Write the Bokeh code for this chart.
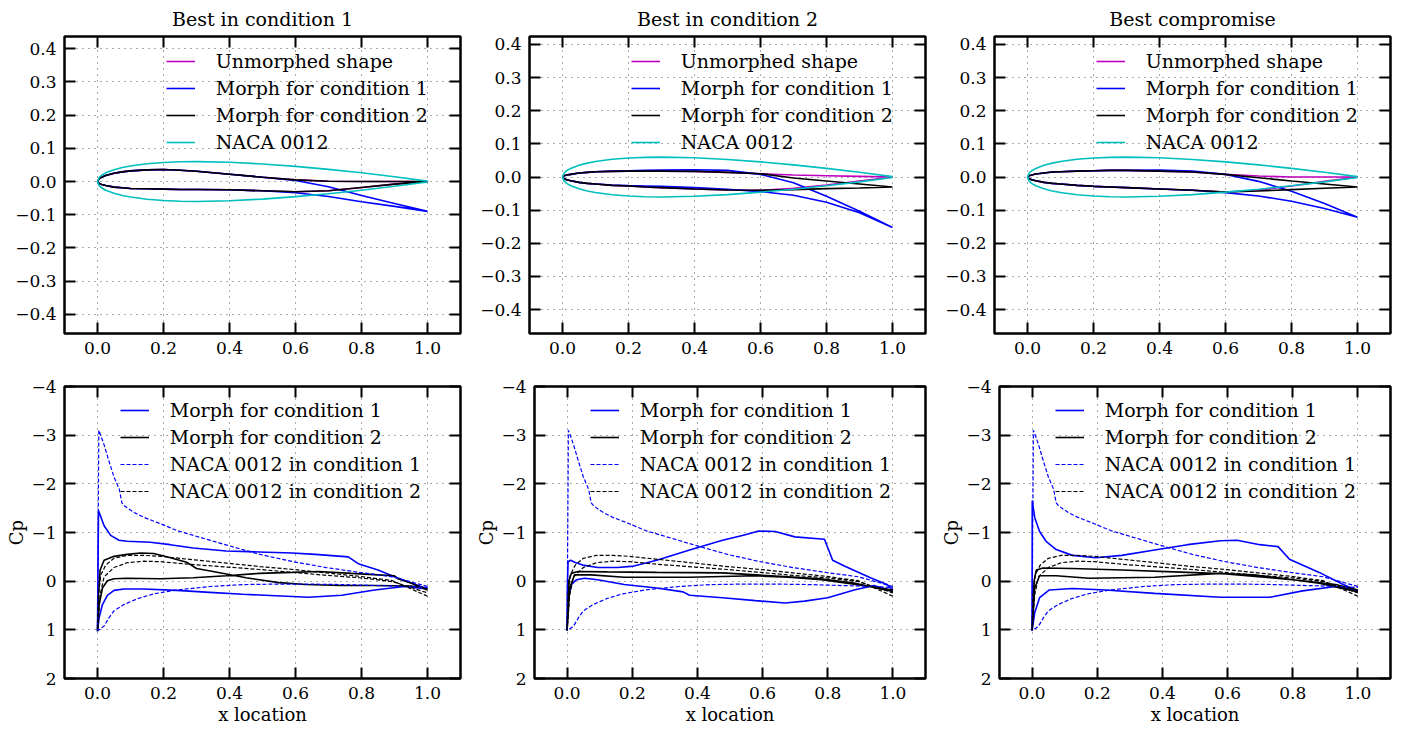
from bokeh.plotting import figure
from bokeh.models import (Range1d, FixedTicker, CustomJSTickFormatter, LinearAxis,
                          Legend, LegendItem)
from bokeh.layouts import column, row
from bokeh.embed import file_html
from bokeh.resources import INLINE

FONT = "DejaVu Serif"

TITLES = ["Best in condition 1", "Best in condition 2", "Best compromise"]
SHAPE_LABELS = ["Unmorphed shape", "Morph for condition 1", "Morph for condition 2", "NACA 0012"]
CP_LABELS = ["Morph for condition 1", "Morph for condition 2",
             "NACA 0012 in condition 1", "NACA 0012 in condition 2"]

X_TICKS = [0.0, 0.2, 0.4, 0.6, 0.8, 1.0]
SHAPE_Y_TICKS = [-0.4, -0.3, -0.2, -0.1, 0.0, 0.1, 0.2, 0.3, 0.4]
CP_Y_TICKS = [-4, -3, -2, -1, 0, 1, 2]
SHAPE_Y_LIMS = [(-0.458, 0.437), (-0.472, 0.424), (-0.472, 0.424)]

# ---- airfoil shapes (chord stations) ----
XS = [0.0, 0.005, 0.0125, 0.025, 0.05, 0.075, 0.1, 0.15, 0.2, 0.25, 0.3, 0.4, 0.5, 0.6, 0.7, 0.8, 0.9, 1.0]
NACA_YT = [0.0, 0.0122, 0.01894, 0.02615, 0.03555, 0.042, 0.04683, 0.05345, 0.05737, 0.05941,
           0.06002, 0.05803, 0.05294, 0.04563, 0.03664, 0.02623, 0.01448, 0.00126]

C1_BASE_UP = [0.0, 0.008, 0.013, 0.018, 0.025, 0.029, 0.032, 0.035, 0.036, 0.034, 0.031, 0.022, 0.013, 0.005, 0.001, 0.0, 0.0, 0.0]
C1_BASE_LO = [0.0, -0.006, -0.009, -0.012, -0.017, -0.019, -0.021, -0.022, -0.023, -0.024, -0.024, -0.025, -0.028, -0.031, -0.028, -0.018, -0.008, 0.0]
C1_M1_UP = [0.0, 0.008, 0.013, 0.018, 0.025, 0.029, 0.032, 0.035, 0.036, 0.034, 0.031, 0.022, 0.013, 0.003, -0.016, -0.042, -0.066, -0.090]
C1_M1_LO = [0.0, -0.006, -0.009, -0.012, -0.017, -0.019, -0.021, -0.022, -0.023, -0.024, -0.024, -0.025, -0.028, -0.034, -0.045, -0.061, -0.075, -0.090]
C1_M2_UP = [0.0, 0.008, 0.013, 0.018, 0.025, 0.029, 0.032, 0.035, 0.036, 0.034, 0.031, 0.022, 0.013, 0.005, 0.001, 0.0, 0.0, 0.0]
C1_M2_LO = [0.0, -0.006, -0.009, -0.012, -0.017, -0.019, -0.021, -0.022, -0.023, -0.024, -0.024, -0.025, -0.028, -0.031, -0.028, -0.018, -0.008, 0.0]

C2_BASE_UP = [0.0, 0.004, 0.006, 0.008, 0.012, 0.014, 0.016, 0.017, 0.018, 0.018, 0.018, 0.017, 0.014, 0.010, 0.006, 0.004, 0.002, 0.0]
C2_BASE_LO = [0.0, -0.005, -0.008, -0.011, -0.016, -0.019, -0.021, -0.025, -0.027, -0.030, -0.032, -0.036, -0.039, -0.040, -0.034, -0.024, -0.012, 0.0]
C2_M1_UP = [0.0, 0.004, 0.006, 0.008, 0.012, 0.014, 0.016, 0.018, 0.019, 0.020, 0.021, 0.022, 0.020, 0.008, -0.017, -0.058, -0.103, -0.152]
C2_M1_LO = [0.0, -0.005, -0.008, -0.011, -0.016, -0.019, -0.021, -0.024, -0.026, -0.027, -0.028, -0.032, -0.037, -0.044, -0.055, -0.076, -0.108, -0.152]
C2_M2_UP = [0.0, 0.004, 0.006, 0.008, 0.012, 0.014, 0.016, 0.017, 0.018, 0.018, 0.018, 0.017, 0.014, 0.010, -0.003, -0.012, -0.021, -0.030]
C2_M2_LO = [0.0, -0.005, -0.008, -0.011, -0.016, -0.019, -0.021, -0.025, -0.027, -0.030, -0.032, -0.036, -0.039, -0.040, -0.038, -0.035, -0.033, -0.030]

C3_BASE_UP = [0.0, 0.004, 0.006, 0.009, 0.012, 0.015, 0.016, 0.018, 0.019, 0.020, 0.020, 0.018, 0.015, 0.008, 0.003, 0.0, 0.0, 0.0]
C3_BASE_LO = [0.0, -0.005, -0.008, -0.011, -0.016, -0.019, -0.021, -0.025, -0.028, -0.030, -0.032, -0.036, -0.040, -0.045, -0.040, -0.027, -0.013, 0.0]
C3_M1_UP = [0.0, 0.004, 0.006, 0.009, 0.012, 0.015, 0.016, 0.018, 0.019, 0.020, 0.020, 0.021, 0.018, 0.008, -0.013, -0.043, -0.080, -0.121]
C3_M1_LO = [0.0, -0.005, -0.008, -0.011, -0.016, -0.019, -0.021, -0.025, -0.028, -0.030, -0.032, -0.036, -0.040, -0.047, -0.057, -0.073, -0.095, -0.121]
C3_M2_UP = [0.0, 0.004, 0.006, 0.009, 0.012, 0.015, 0.016, 0.018, 0.019, 0.020, 0.020, 0.018, 0.015, 0.008, -0.002, -0.012, -0.021, -0.030]
C3_M2_LO = [0.0, -0.005, -0.008, -0.011, -0.016, -0.019, -0.021, -0.025, -0.028, -0.030, -0.032, -0.036, -0.040, -0.045, -0.042, -0.038, -0.034, -0.030]

# ---- pressure coefficients: NACA 0012 (same in all columns) ----
NACA1_XU = [0.0, 0.004, 0.008, 0.02, 0.035, 0.05, 0.066, 0.074, 0.081, 0.111, 0.141, 0.191, 0.241, 0.291, 0.392, 0.492, 0.593, 0.693, 0.794, 0.894, 1.0]
NACA1_CU = [1.0, -3.10, -3.03, -2.80, -2.46, -2.14, -1.89, -1.61, -1.55, -1.41, -1.31, -1.18, -1.04, -0.94, -0.74, -0.55, -0.40, -0.28, -0.18, -0.09, 0.11]
NACA1_XL = [0.0, 0.005, 0.02, 0.035, 0.05, 0.08, 0.121, 0.171, 0.241, 0.342, 0.442, 0.543, 0.643, 0.744, 0.844, 0.945, 1.0]
NACA1_CL = [1.0, 1.0, 0.92, 0.75, 0.61, 0.48, 0.36, 0.26, 0.18, 0.11, 0.07, 0.06, 0.06, 0.07, 0.09, 0.11, 0.13]
NACA2_XU = [0.0, 0.003, 0.01, 0.025, 0.05, 0.09, 0.141, 0.191, 0.291, 0.392, 0.492, 0.593, 0.693, 0.794, 0.894, 1.0]
NACA2_CU = [1.0, 0.28, -0.13, -0.33, -0.47, -0.53, -0.53, -0.51, -0.44, -0.37, -0.30, -0.24, -0.17, -0.10, -0.01, 0.31]
NACA2_XL = [0.0, 0.008, 0.02, 0.05, 0.09, 0.141, 0.191, 0.291, 0.392, 0.492, 0.593, 0.693, 0.794, 0.894, 1.0]
NACA2_CL = [1.0, 0.28, -0.09, -0.28, -0.38, -0.41, -0.40, -0.34, -0.29, -0.24, -0.18, -0.12, -0.07, 0.01, 0.24]

# ---- pressure coefficients: morphed shapes ----
C1_M1_XU = [0.0, 0.003, 0.02, 0.04, 0.065, 0.09, 0.16, 0.22, 0.29, 0.39, 0.49, 0.59, 0.66, 0.76, 0.79, 0.85, 0.90, 0.95, 1.0]
C1_M1_CU = [1.03, -1.45, -1.14, -0.94, -0.84, -0.82, -0.80, -0.75, -0.68, -0.62, -0.60, -0.58, -0.55, -0.50, -0.36, -0.23, -0.09, 0.04, 0.16]
C1_M1_XL = [0.0, 0.005, 0.015, 0.03, 0.05, 0.08, 0.14, 0.24, 0.34, 0.44, 0.54, 0.64, 0.74, 0.84, 0.93, 1.0]
C1_M1_CL = [1.03, 0.75, 0.48, 0.29, 0.19, 0.16, 0.16, 0.19, 0.23, 0.27, 0.30, 0.33, 0.29, 0.18, 0.11, 0.16]
C1_M2_XU = [0.0, 0.003, 0.008, 0.02, 0.05, 0.09, 0.13, 0.17, 0.21, 0.27, 0.30, 0.35, 0.45, 0.55, 0.63, 0.74, 0.84, 0.95, 1.0]
C1_M2_CU = [1.03, 0.28, -0.23, -0.43, -0.51, -0.55, -0.58, -0.57, -0.50, -0.39, -0.26, -0.20, -0.07, 0.03, 0.07, 0.09, 0.09, 0.10, 0.14]
C1_M2_XL = [0.0, 0.005, 0.015, 0.03, 0.05, 0.09, 0.19, 0.29, 0.39, 0.49, 0.59, 0.67, 0.77, 0.85, 0.90, 0.91, 0.95, 1.0]
C1_M2_CL = [1.03, 0.48, 0.14, -0.01, -0.05, -0.06, -0.05, -0.07, -0.11, -0.16, -0.18, -0.20, -0.16, -0.13, -0.11, -0.05, 0.04, 0.18]

C2_M1_XU = [0.0, 0.001, 0.003, 0.011, 0.023, 0.048, 0.094, 0.155, 0.205, 0.275, 0.376, 0.477, 0.538, 0.588, 0.639, 0.699, 0.79, 0.815, 0.851, 0.931, 0.982, 1.0]
C2_M1_CU = [1.02, 0.14, -0.40, -0.43, -0.39, -0.33, -0.28, -0.28, -0.31, -0.43, -0.64, -0.84, -0.94, -1.03, -1.02, -0.91, -0.86, -0.43, -0.31, -0.07, 0.07, 0.18]
C2_M1_XL = [0.0, 0.003, 0.013, 0.029, 0.054, 0.094, 0.175, 0.275, 0.356, 0.376, 0.477, 0.578, 0.669, 0.729, 0.80, 0.881, 0.942, 1.0]
C2_M1_CL = [1.02, 0.41, 0.07, -0.03, -0.06, -0.03, 0.07, 0.14, 0.22, 0.29, 0.34, 0.40, 0.45, 0.41, 0.34, 0.18, 0.09, 0.20]
C2_M2_XU = [0.0, 0.005, 0.013, 0.033, 0.124, 0.275, 0.477, 0.679, 0.779, 0.88, 1.0]
C2_M2_CU = [1.02, 0.0, -0.16, -0.20, -0.19, -0.18, -0.17, -0.09, -0.05, 0.04, 0.21]
C2_M2_XL = [0.0, 0.008, 0.023, 0.074, 0.175, 0.376, 0.578, 0.679, 0.78, 0.881, 1.0]
C2_M2_CL = [1.02, 0.14, -0.13, -0.13, -0.08, -0.08, -0.11, -0.08, -0.03, 0.06, 0.18]

C3_M1_XU = [0.0, 0.0005, 0.008, 0.023, 0.043, 0.074, 0.124, 0.195, 0.275, 0.376, 0.477, 0.578, 0.629, 0.699, 0.755, 0.79, 0.881, 0.952, 1.0]
C3_M1_CU = [1.02, -1.65, -1.31, -1.02, -0.82, -0.65, -0.53, -0.48, -0.53, -0.64, -0.75, -0.83, -0.84, -0.75, -0.71, -0.45, -0.18, 0.06, 0.20]
C3_M1_XL = [0.0, 0.008, 0.023, 0.053, 0.124, 0.225, 0.376, 0.578, 0.73, 0.83, 0.931, 1.0]
C3_M1_CL = [1.02, 0.65, 0.34, 0.18, 0.15, 0.18, 0.25, 0.33, 0.33, 0.20, 0.11, 0.20]
C3_M2_XU = [0.0, 0.006, 0.013, 0.033, 0.124, 0.275, 0.477, 0.679, 0.73, 0.881, 1.0]
C3_M2_CU = [1.02, 0.0, -0.23, -0.27, -0.26, -0.23, -0.18, -0.13, -0.09, 0.04, 0.22]
C3_M2_XL = [0.0, 0.008, 0.023, 0.074, 0.175, 0.376, 0.578, 0.73, 0.83, 0.931, 1.0]
C3_M2_CL = [1.02, 0.14, -0.11, -0.11, -0.06, -0.08, -0.16, -0.07, -0.01, 0.07, 0.18]

SHAPES = [
    (C1_BASE_UP, C1_BASE_LO, C1_M1_UP, C1_M1_LO, C1_M2_UP, C1_M2_LO),
    (C2_BASE_UP, C2_BASE_LO, C2_M1_UP, C2_M1_LO, C2_M2_UP, C2_M2_LO),
    (C3_BASE_UP, C3_BASE_LO, C3_M1_UP, C3_M1_LO, C3_M2_UP, C3_M2_LO),
]
CPS = [
    ((C1_M1_XU, C1_M1_CU, C1_M1_XL, C1_M1_CL), (C1_M2_XU, C1_M2_CU, C1_M2_XL, C1_M2_CL)),
    ((C2_M1_XU, C2_M1_CU, C2_M1_XL, C2_M1_CL), (C2_M2_XU, C2_M2_CU, C2_M2_XL, C2_M2_CL)),
    ((C3_M1_XU, C3_M1_CU, C3_M1_XL, C3_M1_CL), (C3_M2_XU, C3_M2_CU, C3_M2_XL, C3_M2_CL)),
]

MAGENTA = "#bf00bf"
BLUE = "#0000ff"
BLACK = "#000000"
CYAN = "#00bfbf"

WIDTHS = [473, 465, 461]
LEFT_BORDERS = [64, 56, 56]
RIGHT_BORDERS = [13, 13, 9]


def loop(xu, yu, xl, yl):
    return list(xu)[::-1] + list(xl), list(yu)[::-1] + list(yl)


def style_axis(ax, blank=False):
    ax.axis_line_color = None
    ax.major_tick_in = 11
    ax.major_tick_out = 0
    ax.minor_tick_in = 0
    ax.minor_tick_out = 0
    ax.minor_tick_line_color = None
    ax.major_tick_line_width = 2
    ax.major_tick_line_color = "black"
    ax.major_label_text_font = FONT
    ax.major_label_text_color = "black"
    if blank:
        ax.major_label_text_font_size = "0px"
        ax.major_label_standoff = 0
        ax.formatter = CustomJSTickFormatter(code="return '';")
    else:
        ax.major_label_text_font_size = "17px"
        ax.major_label_standoff = 8


def style_label(ax, text, standoff):
    ax.axis_label = text
    ax.axis_label_text_font = FONT
    ax.axis_label_text_font_size = "18px"
    ax.axis_label_text_font_style = "normal"
    ax.axis_label_text_color = "black"
    ax.axis_label_standoff = standoff


def make_base(col, y_range, yticks, ycode, height, top_b, bot_b, title=None):
    kw = dict(width=WIDTHS[col], height=height, x_range=Range1d(-0.1, 1.1), y_range=y_range,
              output_backend="svg", toolbar_location=None,
              min_border_left=LEFT_BORDERS[col], min_border_right=RIGHT_BORDERS[col],
              min_border_top=top_b, min_border_bottom=bot_b)
    if title is not None:
        kw["title"] = title
    p = figure(**kw)
    p.outline_line_color = "black"
    p.outline_line_width = 2.5
    p.outline_line_alpha = 1.0
    p.background_fill_color = "white"
    p.border_fill_color = "white"
    xt = FixedTicker(ticks=X_TICKS)
    yt = FixedTicker(ticks=yticks)
    p.below[0].ticker = xt
    p.left[0].ticker = yt
    p.below[0].formatter = CustomJSTickFormatter(code="return tick.toFixed(1);")
    p.left[0].formatter = CustomJSTickFormatter(code=ycode)
    style_axis(p.below[0])
    style_axis(p.left[0])
    top = LinearAxis(ticker=FixedTicker(ticks=X_TICKS))
    right = LinearAxis(ticker=FixedTicker(ticks=yticks))
    style_axis(top, blank=True)
    style_axis(right, blank=True)
    p.add_layout(top, "above")
    p.add_layout(right, "right")
    p.xgrid.ticker = xt
    p.ygrid.ticker = yt
    for g in (p.xgrid[0], p.ygrid[0]):
        g.grid_line_color = "#555555"
        g.grid_line_dash = "1 5"
        g.grid_line_width = 1
    if title is not None:
        p.title.text_font = FONT
        p.title.text_font_size = "19px"
        p.title.text_font_style = "normal"
        p.title.text_color = "black"
        p.title.align = "center"
        p.title.vertical_align = "top"
        p.title.standoff = 10
    return p


def make_legend(p, labels, renderers, loc):
    items = [LegendItem(label=l, renderers=[r]) for l, r in zip(labels, renderers)]
    leg = Legend(items=items, location=loc)
    leg.background_fill_alpha = 0
    leg.border_line_color = None
    leg.padding = 0
    leg.margin = 0
    leg.spacing = 5
    leg.glyph_width = 29
    leg.glyph_height = 20
    leg.label_height = 20
    leg.label_standoff = 21
    leg.label_text_font = FONT
    leg.label_text_font_size = "19px"
    leg.label_text_color = "black"
    leg.inactive_fill_alpha = 0
    p.add_layout(leg)


shape_ycode = "var s = tick.toFixed(1); return s.replace('-', '\\u2212');"
cp_ycode = "var s = tick.toFixed(0); return s.replace('-', '\\u2212');"

top_figs = []
for c in range(3):
    lo, hi = SHAPE_Y_LIMS[c]
    p = make_base(c, Range1d(lo, hi), SHAPE_Y_TICKS, shape_ycode, 376, 36, 43, title=TITLES[c])
    bu, bl, m1u, m1l, m2u, m2l = SHAPES[c]
    nlo = [-v for v in NACA_YT]
    xb, yb = loop(XS, bu, XS, bl)
    x1, y1 = loop(XS, m1u, XS, m1l)
    x2, y2 = loop(XS, m2u, XS, m2l)
    xn, yn = loop(XS, NACA_YT, XS, nlo)
    r0 = p.line(xb, yb, line_color=MAGENTA, line_width=1.6)
    r1 = p.line(x1, y1, line_color=BLUE, line_width=1.6)
    r2 = p.line(x2, y2, line_color=BLACK, line_width=1.6)
    r3 = p.line(xn, yn, line_color=CYAN, line_width=1.6)
    make_legend(p, SHAPE_LABELS, [r0, r1, r2, r3], (101.7, 180.5))
    top_figs.append(p)

bot_figs = []
for c in range(3):
    p = make_base(c, Range1d(2, -4), CP_Y_TICKS, cp_ycode, 351, 10, 45)
    style_label(p.below[0], "x location", 2)
    style_label(p.left[0], "Cp", 1)
    m1, m2 = CPS[c]
    x1, y1 = loop(*m1)
    x2, y2 = loop(*m2)
    xa, ya = loop(NACA1_XU, NACA1_CU, NACA1_XL, NACA1_CL)
    xb, yb = loop(NACA2_XU, NACA2_CU, NACA2_XL, NACA2_CL)
    r1 = p.line(x1, y1, line_color=BLUE, line_width=1.6)
    r2 = p.line(x2, y2, line_color=BLACK, line_width=1.6)
    r3 = p.line(xa, ya, line_color=BLUE, line_width=1.2, line_dash="4 2")
    r4 = p.line(xb, yb, line_color=BLACK, line_width=1.2, line_dash="4 2")
    make_legend(p, CP_LABELS, [r1, r2, r3, r4], (55.7, 176.5))
    bot_figs.append(p)

layout = column(row(*top_figs, spacing=0), row(*bot_figs, spacing=0), spacing=0)
open("out.html", "w").write(file_html(layout, INLINE))
